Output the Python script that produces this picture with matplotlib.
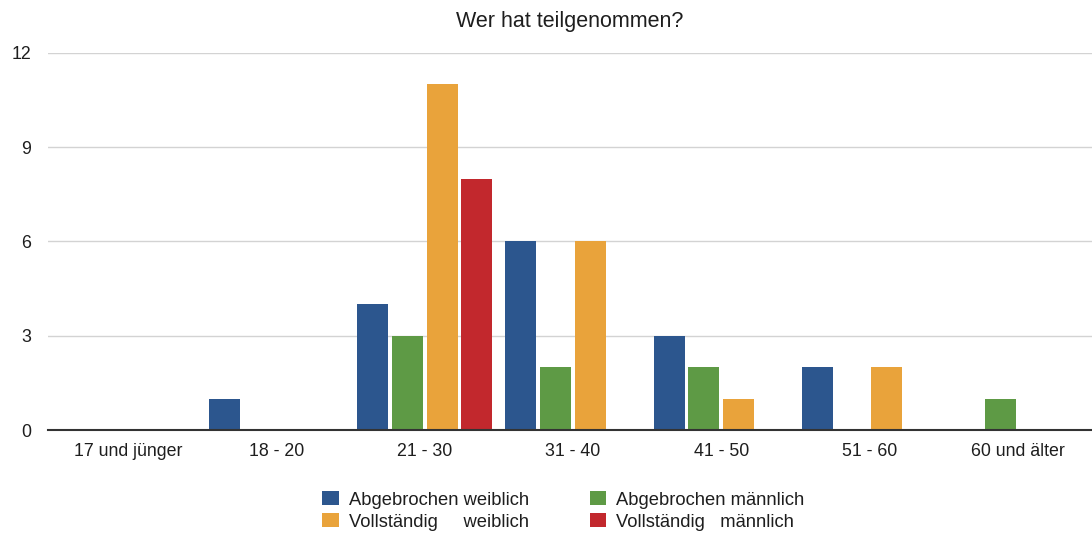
import matplotlib
matplotlib.use("Agg")
import matplotlib.pyplot as plt
import numpy as np

plt.rcParams['font.family'] = ['Liberation Sans', 'DejaVu Sans']

categories = ["17 und jünger", "18 - 20", "21 - 30", "31 - 40", "41 - 50", "51 - 60", "60 und älter"]
abgebrochen_weiblich = [0, 1, 4, 6, 3, 2, 0]
abgebrochen_maennlich = [0, 0, 3, 2, 2, 0, 1]
vollstaendig_weiblich = [0, 0, 11, 6, 1, 2, 0]
vollstaendig_maennlich = [0, 0, 8, 0, 0, 0, 0]
series_labels = ["Abgebrochen weiblich", "Abgebrochen männlich",
                 "Vollständig     weiblich", "Vollständig   männlich"]
colors = ["#2C568E", "#5E9A45", "#E9A33B", "#C2282D"]
yticks = [0, 3, 6, 9, 12]

fig = plt.figure(figsize=(10.92, 5.39), dpi=100)
ax = fig.add_axes([0.044, 0.2022, 0.956, 0.6995])

x = np.arange(len(categories))
step = 0.234
width = 0.209
series = [abgebrochen_weiblich, abgebrochen_maennlich, vollstaendig_weiblich, vollstaendig_maennlich]
handles = []
for i, (vals, lab, col) in enumerate(zip(series, series_labels, colors)):
    h = ax.bar(x + (i - 1.5) * step, vals, width=width, color=col, label=lab, zorder=3)
    handles.append(h)

ax.set_xlim(-0.54, 6.5)
ax.set_ylim(0, 12)
ax.set_yticks(yticks)
ax.set_xticks(x)
ax.set_xticklabels(categories)
ax.tick_params(axis='both', length=0, labelsize=12.8, colors='#1E1E1E')
ax.tick_params(axis='x', pad=9)
ax.tick_params(axis='y', pad=12)
ax.grid(axis='y', color='#D3D3D3', linewidth=1, zorder=0)
for s in ['top', 'right', 'left']:
    ax.spines[s].set_visible(False)
ax.spines['bottom'].set_color('#333333')
ax.spines['bottom'].set_linewidth(1.5)
ax.spines['bottom'].set_zorder(4)

ax.set_title("Wer hat teilgenommen?", fontsize=15.5, color='#1E1E1E', pad=19)

order = [0, 2, 1, 3]
leg = fig.legend([handles[i] for i in order], [series_labels[i] for i in order],
                 ncol=2, loc='center', bbox_to_anchor=(0.516, 0.052),
                 frameon=False, fontsize=13.2, handlelength=0.9, handleheight=0.8,
                 handletextpad=0.55, labelspacing=0.25, columnspacing=3.3,
                 borderpad=0.2)
for t in leg.get_texts():
    t.set_color('#1E1E1E')

fig.savefig("out.png", dpi=100)
